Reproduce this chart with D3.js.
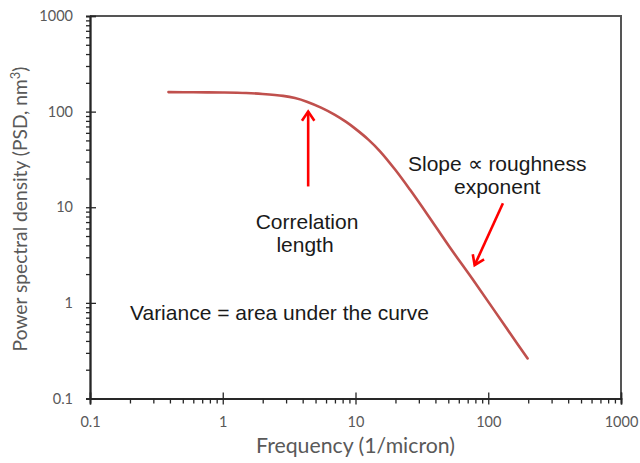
<!DOCTYPE html>
<html><head><meta charset="utf-8">
<script src="https://cdn.jsdelivr.net/npm/d3@7"></script>
<style>body{margin:0;background:#fff}svg{display:block}</style>
</head><body>
<svg id="c" width="640" height="463"></svg>
<script>
const freq = [0.39, 0.6, 1, 1.5, 2, 2.85, 3.5, 4.3, 5.5, 7, 8.5, 10, 12.5, 15.3, 20, 25.7, 35, 51, 77, 110, 150, 198];
const psd  = [160, 159.5, 158.5, 156.5, 153, 146, 138.5, 127, 110, 92.5, 78, 66, 51, 38.5, 24.5, 15.3, 8.3, 3.86, 1.73, 0.85, 0.456, 0.262];
const majorTicks = [0.1, 1, 10, 100, 1000];
const tickLabels = ["0.1", "1", "10", "100", "1000"];
const xTitle = "Frequency (1/micron)";
const yTitle = "Power spectral density (PSD, nm";
const notes = ["Correlation", "length", "Slope \u221D roughness", "exponent", "Variance = area under the curve"];

const svg = d3.select("#c");
const L = 90, R = 621, T = 16, B = 398.5;
const x = d3.scaleLog().domain([0.1, 1000]).range([L, R]);
const y = d3.scaleLog().domain([0.1, 1000]).range([B, T]);

const minors = [];
for (let d = 0.1; d < 1000; d *= 10) for (let k = 2; k <= 9; k++) minors.push(+(d * k).toPrecision(3));

const axisColor = "#262626";
const labelColor = "#595959";
const tickFont = "Lato, 'Open Sans', sans-serif";

function fit(sel, target) {
  const w = sel.node().getComputedTextLength();
  const fs = parseFloat(sel.style("font-size"));
  sel.style("font-size", (fs * target / w).toFixed(2) + "px");
}

// frame (top & right)
svg.append("path").attr("d", `M${L},${T}H${R}V${B}`).attr("fill", "none")
  .attr("stroke", "#555").attr("stroke-width", 2);

function styleAxis(g) {
  g.selectAll(".domain").attr("stroke", axisColor).attr("stroke-width", 1.6);
  g.selectAll(".tick line").attr("stroke", axisColor).attr("stroke-width", 1.3);
  g.selectAll("text").attr("fill", labelColor).style("font-family", tickFont).style("font-size", "14.5px");
}
// X axis
const gx = svg.append("g").attr("transform", `translate(0,${B})`);
gx.append("g").call(d3.axisBottom(x).tickValues(minors).tickSize(5).tickFormat("")).call(styleAxis);
gx.append("g").call(d3.axisBottom(x).tickValues(majorTicks).tickSize(-6).tickFormat("")).call(styleAxis);
gx.append("g").call(d3.axisBottom(x).tickValues(majorTicks).tickSize(6).tickPadding(12)
  .tickFormat((d, i) => tickLabels[i])).call(styleAxis);
// Y axis
const gy = svg.append("g").attr("transform", `translate(${L},0)`);
gy.append("g").call(d3.axisLeft(y).tickValues(minors).tickSize(4).tickFormat("")).call(styleAxis);
gy.append("g").call(d3.axisRight(y).tickValues(majorTicks).tickSize(6).tickFormat("")).call(styleAxis);
gy.append("g").call(d3.axisLeft(y).tickValues(majorTicks).tickSize(4).tickPadding(13)
  .tickFormat((d, i) => tickLabels[i])).call(styleAxis);

// titles
const xt = svg.append("text").attr("x", (L + R) / 2).attr("y", 453).attr("text-anchor", "middle")
  .style("font-family", tickFont).style("font-size", "18px").attr("fill", labelColor).text(xTitle);
fit(xt, 199);
const yt = svg.append("text").attr("transform", `translate(27,209) rotate(-90)`)
  .attr("text-anchor", "middle").style("font-family", tickFont).style("font-size", "18px").attr("fill", labelColor);
yt.append("tspan").text(yTitle);
yt.append("tspan").attr("dy", -7).style("font-size", "12px").text("3");
yt.append("tspan").attr("dy", 7).text(")");
{
  const w = yt.node().getComputedTextLength();
  const k = 285 / w;
  yt.style("font-size", (18 * k).toFixed(2) + "px");
  yt.select("tspan:nth-child(2)").style("font-size", (12 * k).toFixed(2) + "px");
}

// curve
const pts = freq.map((f, i) => [f, psd[i]]);
svg.append("path").datum(pts)
  .attr("d", d3.line().x(d => x(d[0])).y(d => y(d[1])).curve(d3.curveCatmullRom.alpha(0.5)))
  .attr("fill", "none").attr("stroke", "#c0504d").attr("stroke-width", 2.6).attr("stroke-linecap", "round");

// arrows (data coordinates)
const arrows = [
  { from: [4.4, 16.5], to: [4.4, 100] },
  { from: [129, 11], to: [79, 2.48] }
];
arrows.forEach(a => {
  const x0 = x(a.from[0]), y0 = y(a.from[1]), x1 = x(a.to[0]), y1 = y(a.to[1]);
  const ang = Math.atan2(y1 - y0, x1 - x0);
  const hl = 11, hw = 0.6;
  svg.append("line").attr("x1", x0).attr("y1", y0).attr("x2", x1).attr("y2", y1)
    .attr("stroke", "#ff0000").attr("stroke-width", 2.6);
  const p1 = [x1 - hl * Math.cos(ang - hw), y1 - hl * Math.sin(ang - hw)];
  const p2 = [x1 - hl * Math.cos(ang + hw), y1 - hl * Math.sin(ang + hw)];
  svg.append("path").attr("d", `M${p1}L${x1},${y1}L${p2}`).attr("fill", "none")
    .attr("stroke", "#ff0000").attr("stroke-width", 2.6).attr("stroke-linejoin", "miter");
});

// annotation texts
const annFont = "'Liberation Sans', Arial, sans-serif";
const ann = [
  { t: notes[0], x: 307, y: 229, a: "middle" },
  { t: notes[1], x: 305, y: 252, a: "middle" },
  { t: notes[2], x: 408, y: 171, a: "start" },
  { t: notes[3], x: 454, y: 194, a: "start" },
  { t: notes[4], x: 130, y: 320, a: "start" }
];
ann.forEach(d => svg.append("text").attr("x", d.x).attr("y", d.y).attr("text-anchor", d.a)
  .style("font-family", annFont).style("font-size", "21px").attr("fill", "#1a1a1a").text(d.t));
</script>
</body></html>
